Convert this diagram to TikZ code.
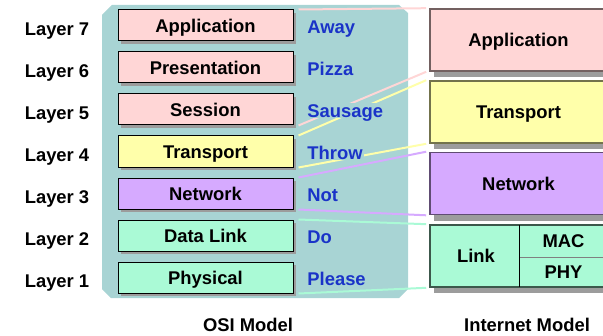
\documentclass[tikz,border=0pt]{standalone}
\usepackage{fontspec}
\setmainfont{Liberation Sans}
\usepackage{tikz}
\usetikzlibrary{shadows,calc}

\definecolor{panel}{HTML}{A8D4D4}
\definecolor{pinkbox}{HTML}{FFD6D6}
\definecolor{yellowbox}{HTML}{FFFFAA}
\definecolor{purplebox}{HTML}{D6AAFF}
\definecolor{greenbox}{HTML}{AAFAD6}
\definecolor{wordblue}{HTML}{1A33C8}
\definecolor{shade}{HTML}{9C9C9C}

\tikzset{
  txt/.style={font=\fontsize{9.2}{11}\selectfont\bfseries, inner sep=0.5pt, text height=6.6pt, text depth=0pt},
  osibox/.style={txt, draw=black, line width=0.5pt, minimum width=87.5pt, minimum height=15.5pt,
    drop shadow={shadow xshift=1.6pt, shadow yshift=-1.6pt, fill=shade, opacity=1}},
  netbox/.style={txt, line width=0.8pt, minimum width=88.5pt, minimum height=31pt,
    drop shadow={shadow xshift=2pt, shadow yshift=-3.2pt, fill=shade, opacity=1}},
  word/.style={txt, text=wordblue, fill=panel, anchor=west},
  joint/.style={line width=1pt}
}

\begin{document}
\begin{tikzpicture}[x=0.5pt,y=-0.5pt]
\useasboundingbox (0,0) rectangle (603,336);

% OSI panel
\fill[panel] (112,5) -- (399,5) -- (408,13) -- (408,289) -- (399,298) -- (111,298) -- (102,289) -- (102,15) -- cycle;

\foreach \n/\name/\col [count=\k from 0] in {7/Application/pinkbox,6/Presentation/pinkbox,5/Session/pinkbox,4/Transport/yellowbox,3/Network/purplebox,2/Data Link/greenbox,1/Physical/greenbox}{
 \node[osibox, fill=\col] (osi\n) at (205.5,{25.5+42*\k}) {\name};
 \node[txt] (layer\n) at (57,{28.5+42*\k}) {Layer \n};
 }

% Internet model
\node[netbox, fill=pinkbox, draw=pinkbox!45!black] (iapp) at (518.5,40) {Application};
\node[netbox, fill=yellowbox, draw=yellowbox!45!black] (itrans) at (518.5,112) {Transport};
\node[netbox, fill=purplebox, draw=purplebox!45!black] (inet) at (518.5,183.5) {Network};
\node[netbox, fill=greenbox, draw=greenbox!35!black] (ilink) at (518.5,256) {};
\node[txt] (linktxt) at (476,256) {Link};
\node[txt, minimum width=43.5pt, minimum height=15.5pt] (mac) at (563.5,241) {MAC};
\node[txt, minimum width=43.5pt, minimum height=15pt] (phy) at (563.5,272) {PHY};
\draw[gray, line width=0.4pt] (mac.south west) -- (mac.south east);
\draw[black, line width=0.5pt] (mac.north west) -- (phy.south west);

\foreach \a/\b/\col in {osi7.north east/iapp.north west/pinkbox,osi5.south east/iapp.south west/pinkbox,osi4.north east/itrans.north west/yellowbox,osi4.south east/itrans.south west/yellowbox,osi3.north east/inet.north west/purplebox,osi3.south east/inet.south west/purplebox,osi2.north east/ilink.north west/greenbox,osi1.south east/ilink.south west/greenbox}
 \draw[joint, \col] ([xshift=2.5pt]\a) -- ([xshift=-1.5pt]\b);

\foreach \n/\word [count=\k from 0] in {7/Away,6/Pizza,5/Sausage,4/Throw,3/Not,2/Do,1/Please}
 \node[word] (word\n) at (306,{26.5+42*\k}) {\word};

\node[txt] (osititle) at (248,325) {OSI Model};
\node[txt] (nettitle) at (527,325) {Internet Model};
\end{tikzpicture}
\end{document}
